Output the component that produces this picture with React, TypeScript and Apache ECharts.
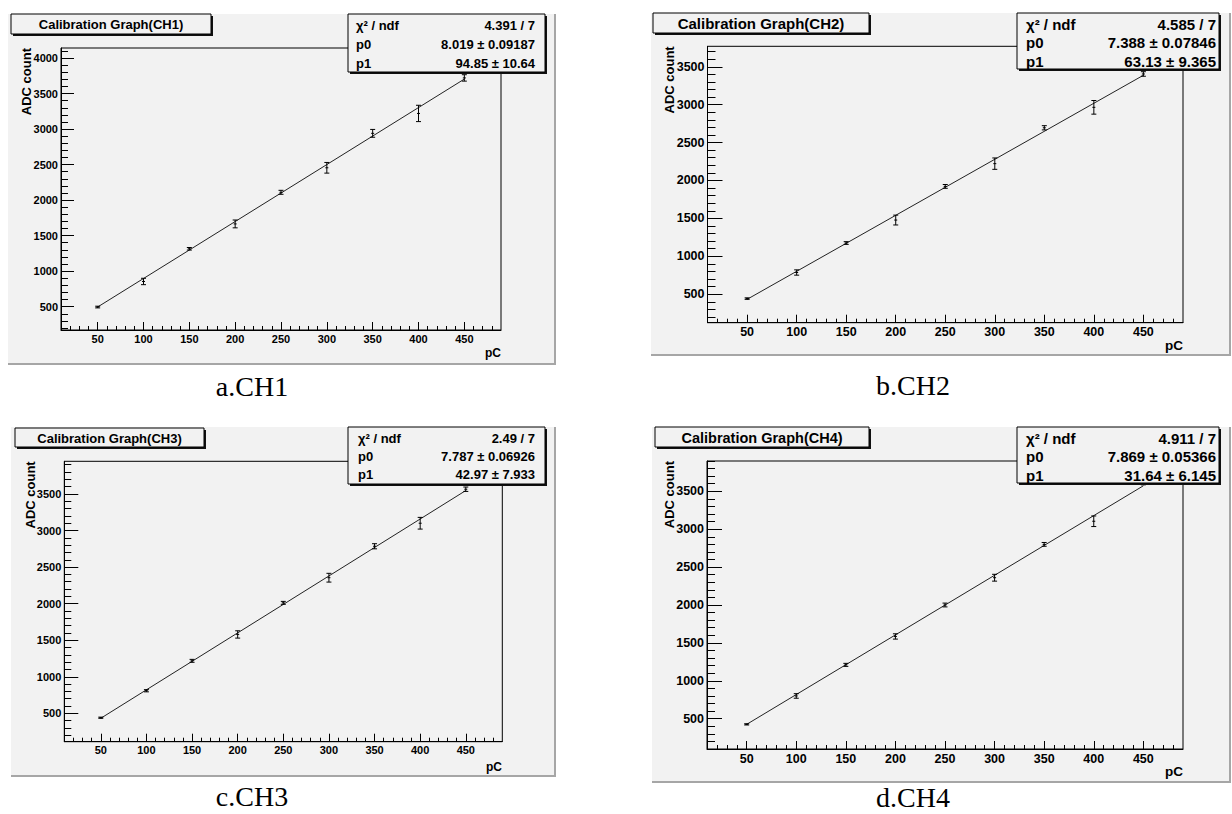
import React, { useEffect, useRef } from "react";
import * as echarts from "echarts";

// ---------------- data ----------------
const charge = [50, 100, 150, 200, 250, 300, 350, 400, 450];

const ch1Adc = [495, 855, 1315, 1665, 2110, 2455, 2940, 3220, 3720];
const ch1Err = [12, 45, 18, 55, 28, 75, 55, 115, 45];
const ch2Adc = [442, 786, 1175, 1478, 1922, 2222, 2695, 2965, 3405];
const ch2Err = [10, 35, 18, 65, 25, 75, 28, 90, 30];
const ch3Adc = [440, 809, 1218, 1579, 2011, 2355, 2785, 3100, 3565];
const ch3Err = [8, 15, 20, 50, 20, 60, 35, 80, 30];
const ch4Adc = [425, 800, 1210, 1585, 2000, 2360, 2800, 3105, 3605];
const ch4Err = [8, 30, 20, 35, 25, 45, 25, 70, 20];

const adcSets = [ch1Adc, ch2Adc, ch3Adc, ch4Adc];
const errSets = [ch1Err, ch2Err, ch3Err, ch4Err];

const fitSlope = [8.019, 7.388, 7.787, 7.869];
const fitIntercept = [94.85, 63.13, 42.97, 31.64];

const titles = [
  "Calibration Graph(CH1)",
  "Calibration Graph(CH2)",
  "Calibration Graph(CH3)",
  "Calibration Graph(CH4)",
];
const captions = ["a.CH1", "b.CH2", "c.CH3", "d.CH4"];
const chiText = ["4.391 / 7", "4.585 / 7", "2.49 / 7", "4.911 / 7"];
const p0Text = ["8.019 ± 0.09187", "7.388 ± 0.07846", "7.787 ± 0.06926", "7.869 ± 0.05366"];
const p1Text = ["94.85 ± 10.64", "63.13 ± 9.365", "42.97 ± 7.933", "31.64 ± 6.145"];

const xTickLabels = [50, 100, 150, 200, 250, 300, 350, 400, 450];
const yTickLabels = [500, 1000, 1500, 2000, 2500, 3000, 3500, 4000];
const xRange = [10, 490];
const yRanges = [
  [172, 4141],
  [124, 3770],
  [112, 3947],
  [100, 3900],
];

// ---------------- layout ----------------
type Panel = {
  bg: number[];
  grid: number[];
  title: number[];
  titleFont: number;
  stats: number[];
  statsFont: number;
  statsLeft: number;
  statsRight: number;
  rowY: number[];
  adc: number[];
  adcFont: number;
  pc: number[];
  caption: number[];
  tickFont: number;
  yMajorLen: number;
  yMinorLen: number;
};

const panels: Panel[] = [
  {
    bg: [8, 14, 547, 350], grid: [61, 48, 440, 282], title: [11, 14, 200, 20], titleFont: 13,
    stats: [348, 14, 197, 58], statsFont: 13, statsLeft: 356, statsRight: 535, rowY: [25, 44, 63],
    adc: [26, 48], adcFont: 13, pc: [501, 353], caption: [252, 386], tickFont: 11, yMajorLen: 13, yMinorLen: 7,
  },
  {
    bg: [651, 13, 579, 342], grid: [707.5, 46.3, 475.5, 276.4], title: [653, 13, 216, 20], titleFont: 15,
    stats: [1017, 13, 202, 56], statsFont: 15, statsLeft: 1026, statsRight: 1216, rowY: [24, 42.7, 61],
    adc: [669, 46.3], adcFont: 13, pc: [1183, 345], caption: [913, 385], tickFont: 12.5, yMajorLen: 15, yMinorLen: 8,
  },
  {
    bg: [11, 427, 544, 349], grid: [64.3, 461.3, 438, 280.4], title: [15, 428, 189, 19], titleFont: 13,
    stats: [348, 427, 197, 57], statsFont: 13, statsLeft: 358, statsRight: 535, rowY: [438, 456, 474],
    adc: [30, 461.3], adcFont: 13, pc: [502, 767], caption: [252, 796], tickFont: 11, yMajorLen: 14, yMinorLen: 7,
  },
  {
    bg: [652, 427, 578, 355], grid: [707, 461, 476, 288], title: [655, 427, 214, 20], titleFont: 14.5,
    stats: [1017, 427, 202, 56], statsFont: 15, statsLeft: 1026, statsRight: 1216, rowY: [438, 456.5, 475],
    adc: [669, 461], adcFont: 13, pc: [1183, 771], caption: [913, 797], tickFont: 12.5, yMajorLen: 15, yMinorLen: 8,
  },
];

const FONT = '"Liberation Sans", Arial, Helvetica, sans-serif';
const SERIF = '"Liberation Serif", "Times New Roman", serif';

function textEl(x: number, y: number, text: string, font: string, align: string, vAlign: string, z = 20, extra: any = {}) {
  return {
    type: "text",
    x,
    y,
    z,
    ...extra,
    style: {
      text,
      font,
      fill: "#000",
      align,
      textAlign: align,
      verticalAlign: vAlign,
      textVerticalAlign: vAlign,
    },
  };
}

function boxEls(r: number[], z: number) {
  const [x, y, w, h] = r;
  return [
    { type: "rect", z, shape: { x: x + 2, y: y + 2, width: w, height: h }, style: { fill: "#111" } },
    { type: "rect", z: z + 1, shape: { x, y, width: w, height: h }, style: { fill: "#f2f2f2", stroke: "#000", lineWidth: 1 } },
  ];
}

const plain = (v: number) => String(Math.round(v));

function buildOption() {
  const grid: any[] = [];
  const xAxis: any[] = [];
  const yAxis: any[] = [];
  const series: any[] = [];
  const elements: any[] = [];

  const xMinor: number[] = [];
  for (let v = 20; v < xRange[1]; v += 10) if (v % 50 !== 0) xMinor.push(v);

  panels.forEach((p, i) => {
    const [gx, gy, gw, gh] = p.grid;
    const [ymin, ymax] = yRanges[i];
    const yMajor = yTickLabels.filter((v) => v >= ymin && v <= ymax);
    const yMinor: number[] = [];
    for (let v = Math.ceil(ymin / 100) * 100; v <= ymax; v += 100) if (v % 500 !== 0) yMinor.push(v);

    grid.push({
      left: gx, top: gy, width: gw, height: gh,
      show: true, borderColor: "#000", borderWidth: 1, backgroundColor: "transparent",
    });

    const labelStyle = { color: "#000", fontWeight: "bold", fontSize: p.tickFont, fontFamily: FONT, formatter: plain };

    xAxis.push({
      type: "value", gridIndex: i, min: xRange[0], max: xRange[1], position: "bottom",
      axisLine: { show: true, onZero: false, lineStyle: { color: "#000", width: 1 } },
      axisTick: { show: true, inside: true, length: 8, customValues: xTickLabels, lineStyle: { color: "#000", width: 1 } },
      axisLabel: { show: true, customValues: xTickLabels, margin: 3, ...labelStyle },
      splitLine: { show: false },
    });
    xAxis.push({
      type: "value", gridIndex: i, min: xRange[0], max: xRange[1], position: "bottom",
      axisLine: { show: false, onZero: false },
      axisTick: { show: true, inside: true, length: 4, customValues: xMinor, lineStyle: { color: "#000", width: 1 } },
      axisLabel: { show: false },
      splitLine: { show: false },
    });
    yAxis.push({
      type: "value", gridIndex: i, min: ymin, max: ymax, position: "left",
      axisLine: { show: true, onZero: false, lineStyle: { color: "#000", width: 1 } },
      axisTick: { show: true, inside: true, length: p.yMajorLen, customValues: yMajor, lineStyle: { color: "#000", width: 1 } },
      axisLabel: { show: true, customValues: yMajor, margin: 3, ...labelStyle },
      splitLine: { show: false },
    });
    yAxis.push({
      type: "value", gridIndex: i, min: ymin, max: ymax, position: "left",
      axisLine: { show: false, onZero: false },
      axisTick: { show: true, inside: true, length: p.yMinorLen, customValues: yMinor, lineStyle: { color: "#000", width: 1 } },
      axisLabel: { show: false },
      splitLine: { show: false },
    });

    const pts = charge.map((c, k) => [c, adcSets[i][k], errSets[i][k]]);
    series.push({
      type: "custom",
      xAxisIndex: 2 * i,
      yAxisIndex: 2 * i,
      z: 4,
      clip: false,
      data: pts,
      encode: { x: 0, y: 1 },
      renderItem: (_params: any, api: any) => {
        const x = api.value(0);
        const y = api.value(1);
        const e = api.value(2);
        const c = api.coord([x, y]);
        const t = api.coord([x, y + e]);
        const b = api.coord([x, y - e]);
        const st = { stroke: "#000", lineWidth: 1 };
        return {
          type: "group",
          children: [
            { type: "line", shape: { x1: c[0], y1: t[1], x2: c[0], y2: b[1] }, style: st },
            { type: "line", shape: { x1: c[0] - 2.5, y1: t[1], x2: c[0] + 2.5, y2: t[1] }, style: st },
            { type: "line", shape: { x1: c[0] - 2.5, y1: b[1], x2: c[0] + 2.5, y2: b[1] }, style: st },
            { type: "line", shape: { x1: c[0] - 1.5, y1: c[1], x2: c[0] + 1.5, y2: c[1] }, style: st },
          ],
        };
      },
    });

    const x0 = charge[0];
    const x1 = charge[charge.length - 1];
    series.push({
      type: "line",
      xAxisIndex: 2 * i,
      yAxisIndex: 2 * i,
      z: 3,
      symbol: "none",
      silent: true,
      lineStyle: { color: "#222", width: 1 },
      data: [
        [x0, fitSlope[i] * x0 + fitIntercept[i]],
        [x1, fitSlope[i] * x1 + fitIntercept[i]],
      ],
    });

    // panel background and bevel
    const [bx, by, bw, bh] = p.bg;
    elements.push({ type: "rect", z: -10, shape: { x: bx, y: by, width: bw, height: bh }, style: { fill: "#f2f2f2" } });
    elements.push({ type: "line", z: -9, shape: { x1: bx + bw, y1: by, x2: bx + bw, y2: by + bh }, style: { stroke: "#a6a6a6", lineWidth: 2 } });
    elements.push({ type: "line", z: -9, shape: { x1: bx, y1: by + bh, x2: bx + bw + 1, y2: by + bh }, style: { stroke: "#a6a6a6", lineWidth: 2 } });

    // title box
    elements.push(...boxEls(p.title, 10));
    elements.push(
      textEl(p.title[0] + p.title[2] / 2, p.title[1] + p.title[3] / 2 + 0.5, titles[i], `bold ${p.titleFont}px ${FONT}`, "center", "middle", 12)
    );

    // stats box
    elements.push(...boxEls(p.stats, 10));
    const sf = `bold ${p.statsFont}px ${FONT}`;
    const labels = ["χ² / ndf", "p0", "p1"];
    const vals = [chiText[i], p0Text[i], p1Text[i]];
    labels.forEach((lab, k) => {
      elements.push(textEl(p.statsLeft, p.rowY[k], lab, sf, "left", "middle", 12));
      elements.push(textEl(p.statsRight, p.rowY[k], vals[k], sf, "right", "middle", 12));
    });

    // axis titles
    elements.push(
      textEl(p.adc[0], p.adc[1], "ADC count", `bold ${p.adcFont}px ${FONT}`, "right", "middle", 12, { rotation: Math.PI / 2 })
    );
    elements.push(textEl(p.pc[0], p.pc[1], "pC", `bold ${p.tickFont + 1}px ${FONT}`, "right", "middle", 12));

    // caption
    elements.push(textEl(p.caption[0], p.caption[1], captions[i], `28px ${SERIF}`, "center", "middle", 12));
  });

  return {
    animation: false,
    backgroundColor: "#ffffff",
    grid,
    xAxis,
    yAxis,
    series,
    graphic: { elements },
  };
}

export default function App() {
  const ref = useRef<HTMLDivElement>(null);
  useEffect(() => {
    if (!ref.current) return;
    const chart = echarts.init(ref.current, undefined, { renderer: "svg" });
    chart.setOption(buildOption() as any);
    return () => chart.dispose();
  }, []);
  return (
    <div
      ref={ref}
      style={{ position: "fixed", left: 0, top: 0, width: 1232, height: 814, background: "#fff" }}
    />
  );
}
